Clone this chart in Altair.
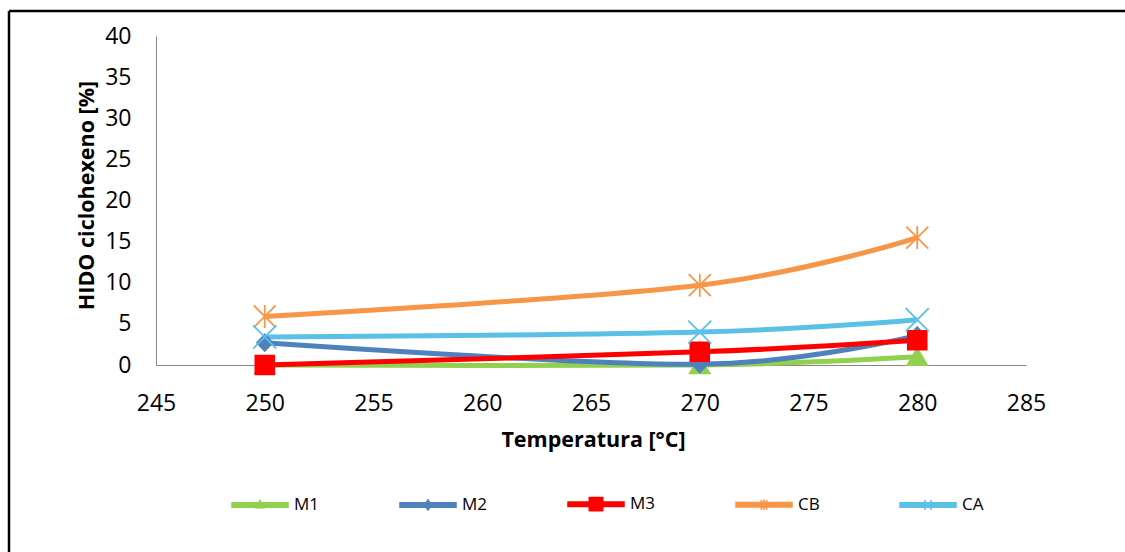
import altair as alt
import pandas as pd

# ---- data -------------------------------------------------------------
temperatures = [250, 270, 280]
series_names = ["M1", "M2", "M3", "CB", "CA"]
m1_values = [0.0, 0.0, 1.0]
m2_values = [2.7, 0.1, 3.6]
m3_values = [0.0, 1.6, 3.0]
cb_values = [5.9, 9.7, 15.5]
ca_values = [3.4, 4.0, 5.5]

x_ticks = [245, 250, 255, 260, 265, 270, 275, 280, 285]
y_ticks = [0, 5, 10, 15, 20, 25, 30, 35, 40]

# ---- styling ----------------------------------------------------------
series_colors = ["#92D050", "#4F81BD", "#FF0000", "#F79646", "#5BC0E5"]

# marker glyphs inside the plot (unit box -1..1)
marker_paths = [
    "M0,-0.75L0.9,0.75H-0.9Z",                      # triangle
    "M0,-0.75L0.7,0L0,0.75L-0.7,0Z",                 # diamond
    "M-0.85,-0.85H0.85V0.85H-0.85Z",                 # square
    "M-1,-1L1,1M-1,1L1,-1M0,-1.05V1.05",             # star
    "M-1.05,-1.05L1.05,1.05M-1.05,1.05L1.05,-1.05",  # x
]

# legend glyphs: short line segment with a small marker on it
seg = "M-1,-0.08H1V0.08H-1Z"
legend_paths = [
    seg + "M0,-0.16L0.14,0.1H-0.14Z",
    seg + "M0,-0.18L0.12,0L0,0.18L-0.12,0Z",
    seg + "M-0.24,-0.24H0.24V0.24H-0.24Z",
    seg + "M-0.12,-0.17L0.12,0.17M-0.12,0.17L0.12,-0.17M0,-0.19V0.19",
    seg + "M-0.13,-0.17L0.13,0.17M-0.13,0.17L0.13,-0.17",
]

FONT = "Open Sans"

rows = []
for name, vals in zip(series_names, [m1_values, m2_values, m3_values, cb_values, ca_values]):
    for t, v in zip(temperatures, vals):
        rows.append({"Serie": name, "Temperatura": t, "HIDO": v})
df = pd.DataFrame(rows)

x_enc = alt.X(
    "Temperatura:Q",
    scale=alt.Scale(domain=[245, 285], nice=False, zero=False),
    axis=alt.Axis(
        values=x_ticks, format="d", title="Temperatura [°C]",
        titleX=437, titleY=75, titleBaseline="middle", titleAlign="center",
        labelPadding=27, labelFlush=False,
    ),
)
y_enc = alt.Y(
    "HIDO:Q",
    scale=alt.Scale(domain=[0, 40], nice=False),
    axis=alt.Axis(
        values=y_ticks, title="HIDO ciclohexeno [%]",
        titleX=-69, titleY=159, titleAngle=270, titleAlign="center",
        titleBaseline="middle", labelPadding=25, labelFlush=False,
    ),
)

base = alt.Chart(df).encode(x=x_enc, y=y_enc)


def color_scale(rng):
    return alt.Scale(domain=series_names, range=rng)


# outer frame of the figure (top and left edges)
frame_df = pd.DataFrame({"k": [0]})
frame_top = alt.Chart(frame_df).mark_rule(color="black", strokeWidth=2.5).encode(
    x=alt.value(-147), x2=alt.value(969), y=alt.value(-25)
)
frame_left = alt.Chart(frame_df).mark_rule(color="black", strokeWidth=2.5).encode(
    x=alt.value(-147), y=alt.value(-25), y2=alt.value(516)
)

lines = base.mark_line(strokeWidth=5, interpolate="cardinal").encode(
    color=alt.Color("Serie:N", scale=color_scale(series_colors), legend=None),
)

points = base.mark_point(filled=True, size=484, strokeWidth=1.8, opacity=1).encode(
    shape=alt.Shape("Serie:N", scale=color_scale(marker_paths), legend=None),
    fill=alt.Fill("Serie:N", scale=color_scale(series_colors), legend=None),
    stroke=alt.Stroke("Serie:N", scale=color_scale(series_colors), legend=None),
)

legend_def = alt.Legend(
    orient="none", legendX=75, legendY=439, direction="horizontal",
    columns=5, title=None, padding=0, symbolSize=3136,
    symbolStrokeWidth=1.5, labelFont=FONT, labelFontSize=17,
    labelColor="black", labelOffset=5, columnPadding=77,
)

# legend carrier: no marks drawn, only its legend (line + marker glyphs)
legend_layer = base.transform_filter("false").mark_point(
    filled=True, opacity=1, strokeWidth=1.5
).encode(
    shape=alt.Shape("Serie:N", scale=color_scale(legend_paths), legend=legend_def),
    fill=alt.Fill("Serie:N", scale=color_scale(series_colors), legend=legend_def),
    stroke=alt.Stroke("Serie:N", scale=color_scale(series_colors), legend=legend_def),
)

chart = alt.layer(frame_top, frame_left, lines, points, legend_layer).resolve_scale(
    shape="independent", fill="independent", stroke="independent"
).resolve_legend(
    shape="independent", fill="independent", stroke="independent"
).properties(
    width=870, height=329,
    autosize=alt.AutoSizeParams(type="none"),
    padding={"left": 156, "top": 36, "right": 99, "bottom": 187},
    background="white",
).configure_view(stroke=None).configure_axis(
    labelFont=FONT, labelFontSize=23, labelColor="black",
    titleFont=FONT, titleFontSize=21.5, titleFontWeight="bold", titleColor="black",
    domainColor="#868686", domainWidth=1, ticks=False, grid=False,
)

chart.save("out.html", embed_options={"renderer": "svg", "actions": False})
